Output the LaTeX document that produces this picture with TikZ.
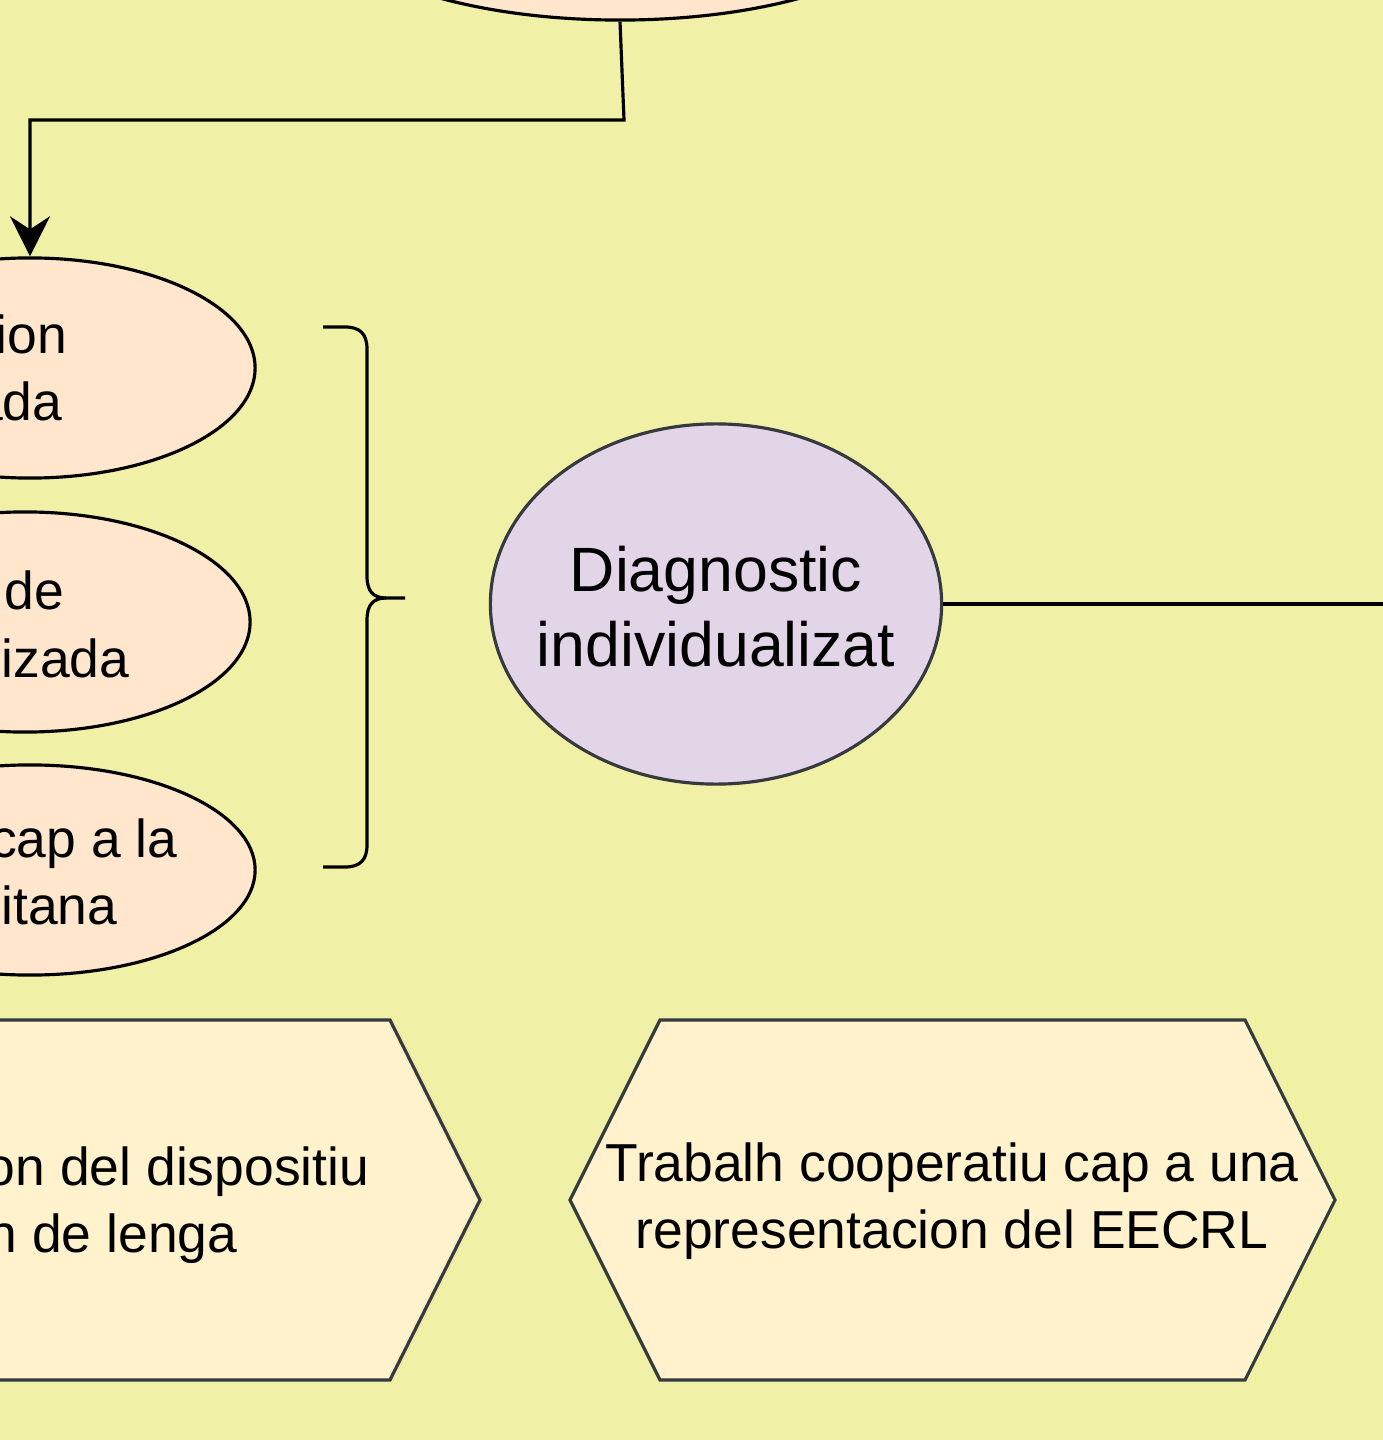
\documentclass[tikz,border=0pt]{standalone}
\usepackage{fontspec}
\setmainfont{Liberation Sans}
\usetikzlibrary{shapes.geometric,arrows.meta}
\definecolor{bg}{HTML}{F0F1A6}
\definecolor{peach}{HTML}{FFE6CC}
\definecolor{lilac}{HTML}{E1D5E7}
\definecolor{cream}{HTML}{FFF2CC}
\definecolor{edgegray}{HTML}{36393D}
\begin{document}
\begin{tikzpicture}[x=0.01cm,y=-0.01cm,
  pe/.style={ellipse,draw=black,fill=peach,line width=0.9pt,inner sep=0pt},
  lbl/.style={font=\fontsize{15.2}{19.1}\selectfont,inner sep=0pt},
  conn/.style={line width=0.9pt,draw=black},
  hexa/.style={draw=edgegray,fill=cream,line width=0.9pt,line join=miter}]
\useasboundingbox (0,0) rectangle (1383,1440);
\clip (0,0) rectangle (1383,1440);
\fill[bg] (0,0) rectangle (1383,1440);
% peach ellipses
\node[pe,minimum width=6cm,minimum height=2.2cm] (top) at (620,-90) {};
\node[pe,minimum width=4.5cm,minimum height=2.2cm] (e1) at (30,368) {};
\node[pe,minimum width=4.5cm,minimum height=2.2cm] (e2) at (25,622) {};
\node[pe,minimum width=4.5cm,minimum height=2.1cm] (e3) at (30,870) {};
\node[lbl,anchor=base east] (t1a) at (68,354) {ion};
\node[lbl,anchor=base east] (t1b) at (63,421) {ada};
\node[lbl,anchor=base east] (t2a) at (65,609) {de};
\node[lbl,anchor=base east] (t2b) at (130,677) {izada};
\node[lbl,anchor=base east] (t3a) at (178,857) {cap a la};
\node[lbl,anchor=base east] (t3b) at (118,924) {citana};
% connector
\coordinate (b1) at (624,120);
\coordinate (b2) at (30,120);
\draw[conn,-{Stealth[length=0.4cm,width=0.4cm,inset=0.13cm]}] (top.south) -- (b1) -- (b2) -- (e1.north);
% brace
\coordinate (brtip) at (405,598);
\draw[conn] (323,327) -- (345,327) .. controls (360,327) and (367,334) .. (367,349) -- (367,576)
  .. controls (367,591) and (373,598) .. (386,598) -- (brtip);
\draw[conn] (386,598) .. controls (373,598) and (367,605) .. (367,620) -- (367,845)
  .. controls (367,860) and (360,867) .. (345,867) -- (323,867);
% diagnostic
\node[ellipse,draw=edgegray,fill=lilac,line width=0.9pt,minimum width=4.51cm,minimum height=3.6cm,inner sep=0pt] (diag) at (716,604) {};
\node[align=center,inner sep=0pt,font=\fontsize{17.8}{21.3}\selectfont] (diagtxt) at (716,607) {Diagnostic\\individualizat};
\coordinate (rend) at (1400,604);
\draw[conn] (diag.east) -- (rend);
% hexagons
\draw[hexa] (-300,1020) -- (390,1020) -- (480,1200) -- (390,1380) -- (-300,1380) -- cycle;
\node[lbl,anchor=base east] (h1a) at (370,1185) {on del dispositiu};
\node[lbl,anchor=base east] (h1b) at (238,1252) {n de lenga};
\draw[hexa] (660,1020) -- (1245,1020) -- (1335,1200) -- (1245,1380) -- (660,1380) -- (570,1200) -- cycle;
\node[lbl,align=center] (h2) at (952,1201) {Trabalh cooperatiu cap a una\\representacion del EECRL};
\end{tikzpicture}
\end{document}
